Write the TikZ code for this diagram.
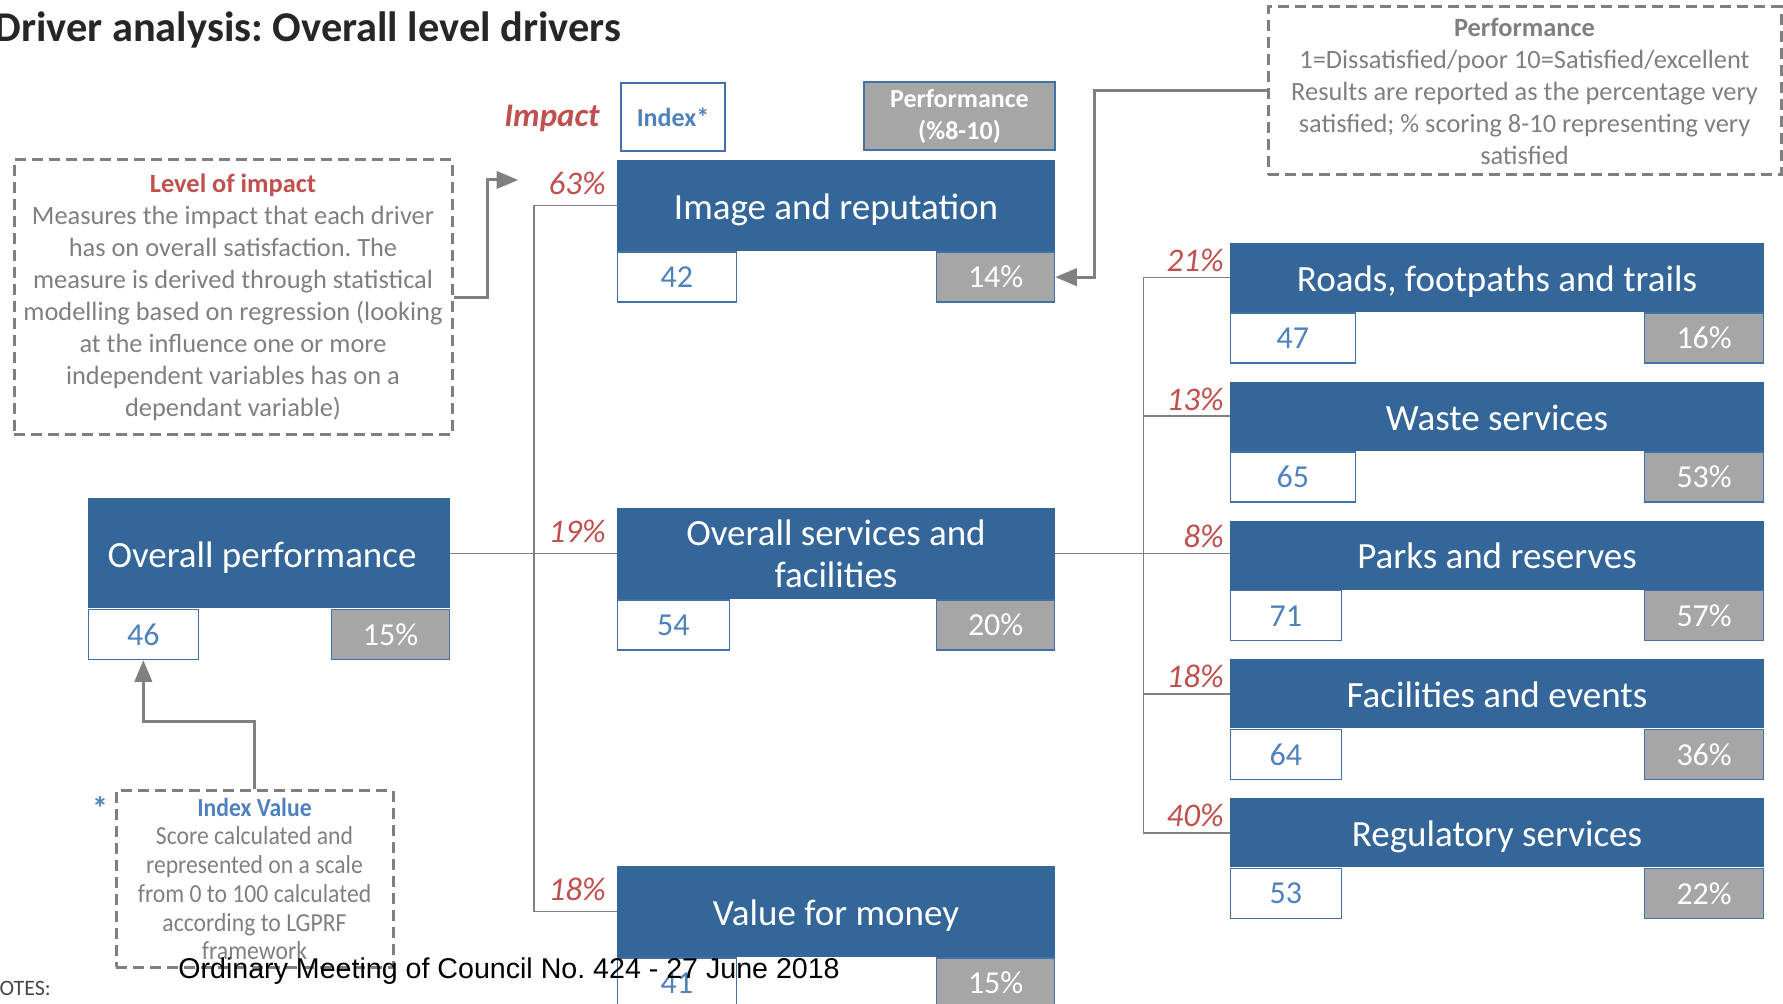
\documentclass[tikz,border=0pt]{standalone}
\usepackage{fontspec}
\setmainfont{Carlito}
\newfontfamily\narrowfont[FakeStretch=0.91]{Carlito}
\newfontfamily\footfont{Liberation Sans}
\usetikzlibrary{arrows,positioning}
\definecolor{boxblue}{RGB}{52,102,153}
\definecolor{lineblue}{RGB}{65,113,166}
\definecolor{idxblue}{RGB}{79,129,189}
\definecolor{perfgray}{RGB}{166,166,166}
\definecolor{impred}{RGB}{192,80,77}
\definecolor{notegray}{RGB}{127,127,127}
\definecolor{linegray}{RGB}{128,128,128}
\definecolor{titlegray}{RGB}{38,38,38}
\frenchspacing

\begin{document}
\begin{tikzpicture}[x=0.5pt,y=-0.5pt,>=triangle 45,
  driver/.style={rectangle,fill=boxblue,text=white,align=center,inner sep=0pt,
    minimum width=219pt,minimum height=45.5pt,font=\fontsize{18.5}{21}\selectfont},
  one line/.style={text height=14.5pt,text depth=0.6pt},
  side driver/.style={driver,one line,minimum width=267pt,minimum height=34.5pt},
  index node/.style={rectangle,draw=lineblue,fill=white,text=idxblue,line width=0.75pt,
    inner sep=0pt,minimum height=25pt,font=\fontsize{16}{18}\selectfont,anchor=north west},
  perf node/.style={rectangle,draw=lineblue,fill=perfgray,text=white,line width=0.75pt,
    inner sep=0pt,minimum width=59pt,minimum height=25pt,font=\fontsize{16}{18}\selectfont,anchor=north east},
  pct/.style={anchor=base east,inner sep=0pt,xshift=-5pt,yshift=5.5pt,text=impred,
    font=\fontsize{16.5}{18}\itshape},
  side pct/.style={pct,xshift=2.5pt,yshift=-2.5pt},
  note box/.style={rectangle,draw=notegray,line width=1.5pt,dash pattern=on 5.5pt off 3pt,
    text=notegray,align=center,inner sep=0pt,font=\fontsize{13.2}{16}\selectfont},
  link/.style={draw=linegray,line width=0.85pt},
  pointer/.style={->,draw=linegray,line width=1.5pt}]
  \useasboundingbox (0,0) rectangle (1783,1004);
  \clip (0,0) rectangle (1783,1004);

  \node[anchor=base west,inner sep=0pt,text=titlegray,font=\fontsize{21.2}{24}\bfseries] (title) at (-6,42) {Driver analysis: Overall level drivers};

  % column headings
  \node[text=impred,font=\fontsize{16.5}{18}\bfseries\itshape] (impact) at (552,118) {Impact};
  \node[index node,anchor=center,minimum width=52pt,minimum height=34pt,font=\fontsize{13}{16}\bfseries] (indexhead) at (673,117) {Index*};
  \node[perf node,anchor=center,align=center,minimum width=95.5pt,minimum height=34pt,font=\fontsize{13}{16}\bfseries] (perfhead) at (959.5,116) {Performance\\(\%8-10)};

  % drivers
  \node[driver,one line,minimum width=181pt,minimum height=55pt] (overall) at (269,553.5) {Overall performance\hspace*{7pt}};
  \node[index node,minimum width=55pt] (overallI) at (overall.south west) {46};
  \node[perf node] (overallP) at (overall.south east) {15\%};

  \node[driver,one line] (img) at (836,205.5) {Image and reputation};
  \node[index node,minimum width=59.5pt] (imgI) at (img.south west) {42};
  \node[perf node] (imgP) at (img.south east) {14\%};

  \node[driver] (svc) at (836,553.5) {Overall services and\\facilities};
  \node[index node,minimum width=56pt] (svcI) at (svc.south west) {54};
  \node[perf node] (svcP) at (svc.south east) {20\%};

  \node[driver,one line] (vfm) at (836,911.5) {Value for money};
  \node[index node,minimum width=59.5pt] (vfmI) at (vfm.south west) {41};
  \node[perf node] (vfmP) at (vfm.south east) {15\%};

  \node[side driver] (roads) at (1497,277.5) {Roads, footpaths and trails};
  \node[index node,minimum width=62.5pt] (roadsI) at (roads.south west) {47};
  \node[perf node,minimum width=59.5pt] (roadsP) at (roads.south east) {16\%};

  \node[side driver,below=34.5pt of roads] (waste) {Waste services};
  \node[index node,minimum width=62.5pt] (wasteI) at (waste.south west) {65};
  \node[perf node,minimum width=59.5pt] (wasteP) at (waste.south east) {53\%};

  \node[side driver,below=34.5pt of waste] (parks) {Parks and reserves};
  \node[index node,minimum width=55.5pt] (parksI) at (parks.south west) {71};
  \node[perf node,minimum width=59.5pt] (parksP) at (parks.south east) {57\%};

  \node[side driver,below=34.5pt of parks] (fac) {Facilities and events};
  \node[index node,minimum width=55.5pt] (facI) at (fac.south west) {64};
  \node[perf node,minimum width=59.5pt] (facP) at (fac.south east) {36\%};

  \node[side driver,below=34.5pt of fac] (reg) {Regulatory services};
  \node[index node,minimum width=55.5pt] (regI) at (reg.south west) {53};
  \node[perf node,minimum width=59.5pt] (regP) at (reg.south east) {22\%};

  % impact links
  \coordinate (trunk) at (534,553.5);
  \path (svc.east) ++(88,0) coordinate (branch);
  \draw[link] (overall.east) -- (svc.west) node[pct] {19\%};
  \draw[link] (img.west) node[pct] {63\%} -| (trunk) |- (vfm.west) node[pct] {18\%};
  \draw[link] (svc.east) -- (svc.east -| parks.west) node[side pct] {8\%};
  \draw[link] (roads.west) node[side pct] {21\%} -| (branch) |- (reg.west) node[side pct] {40\%};
  \draw[link] (waste.west) node[side pct] {13\%} -- (waste.west -| branch);
  \draw[link] (fac.west) node[side pct] {18\%} -- (fac.west -| branch);

  % notes
  \node[note box,minimum width=219pt,minimum height=137.5pt] (impactnote) at (233,297.5)
    {{\color{impred}\bfseries Level of impact}\\
     Measures the impact that each driver\\
     has on overall satisfaction. The\\
     measure is derived through statistical\\
     modelling based on regression (looking\\
     at the influence one or more\\
     independent variables has on a\\
     dependant variable)};
  \node[note box,minimum width=256.5pt,minimum height=84pt] (perfnote) at (1524.5,91)
    {{\bfseries Performance}\\
     1=Dissatisfied/poor 10=Satisfied/excellent\\
     Results are reported as the percentage very\\
     satisfied; \% scoring 8-10 representing very\\
     satisfied};
  \node[note box,minimum width=138.5pt,minimum height=88pt,font=\narrowfont\fontsize{13}{14.35}\selectfont] (indexnote) at (254.5,879)
    {{\color{idxblue}\bfseries Index Value}\\
     Score calculated and\\
     represented on a scale\\
     from 0 to 100 calculated\\
     according to LGPRF\\
     framework};
  \node[text=idxblue,inner sep=0pt,font=\fontsize{16}{18}\bfseries] (star) at (100,808) {*};

  \coordinate (impacttip) at (518,180);
  \draw[pointer] (impactnote.east) -- ++(34,0) |- (impacttip);
  \draw[pointer] (perfnote.west) -- ++(-172,0) |- (imgP.east);
  \draw[pointer] (indexnote.north) -- ++(0,-68) -| (overallI.south);

  \node[anchor=base west,inner sep=0pt,font=\footfont\fontsize{14.3}{16}\selectfont] (footer) at (178,978) {Ordinary Meeting of Council No. 424 - 27 June 2018};
  \node[anchor=base west,inner sep=0pt,text=titlegray!85,font=\fontsize{11}{12}\selectfont] (notes) at (-15,995) {NOTES:};
\end{tikzpicture}
\end{document}
